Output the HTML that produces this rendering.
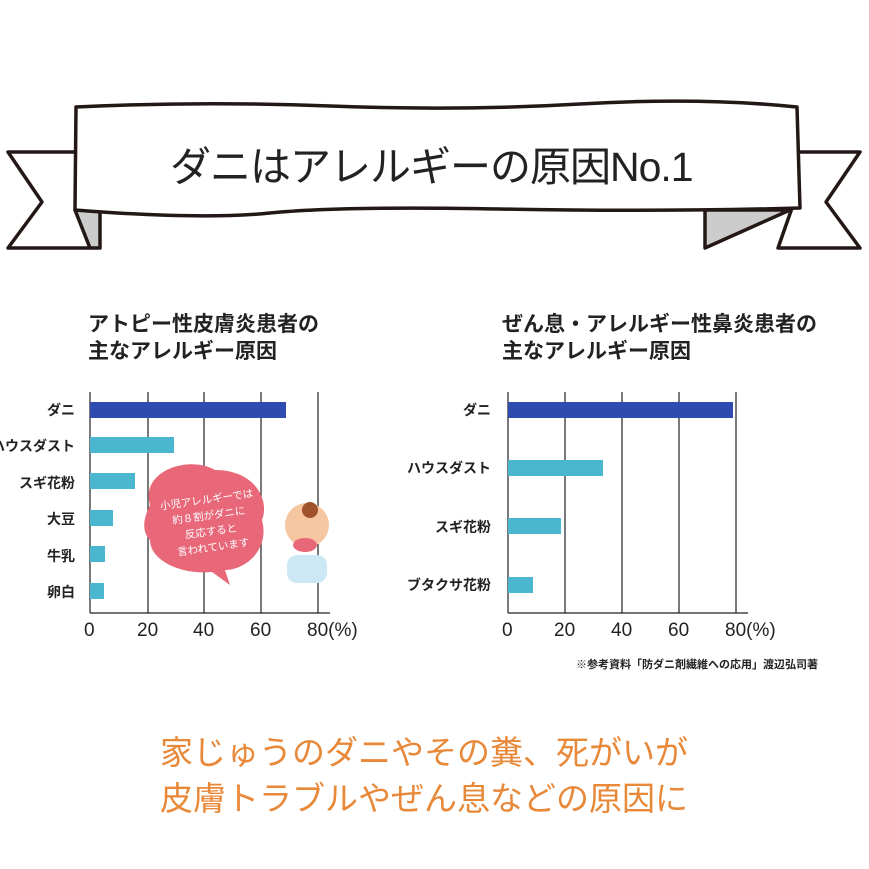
<!DOCTYPE html>
<html><head><meta charset="utf-8"><style>
body{margin:0;background:#fff;width:869px;height:869px;overflow:hidden;position:relative;font-family:"Liberation Sans","Noto Sans CJK JP",sans-serif;}
.t{position:absolute;white-space:nowrap;}
</style></head><body>
<svg width="869" height="869" style="position:absolute;left:0;top:0">
<g stroke="#231815" stroke-width="3.5" fill="#fff" stroke-linejoin="round">
<polygon points="8,152 76,152 76,208 90,248 8,248 42,202"/>
<polygon points="860,152 792,152 792,208 778,248 860,248 826,202"/>
<polygon points="75,210 100,210 100,248 90,248" fill="#ccc"/>
<polygon points="705,210 790,210 705,248" fill="#ccc"/>
<path d="M76,107 Q200,101 330,106 T580,104 T797,107 L800,208 Q660,212 500,209 T270,213 T75,210 Z"/>
</g>
</svg>
<div class="t" style="left:170px;top:133px;font-size:41px;color:#222;letter-spacing:-1px">ダニはアレルギーの原因No.1</div>

<div class="t" style="left:88px;top:311px;font-size:21px;line-height:27px;color:#222;font-weight:bold">アトピー性皮膚炎患者の<br>主なアレルギー原因</div>
<div class="t" style="left:502px;top:311px;font-size:21px;line-height:27px;color:#222;font-weight:bold">ぜん息・アレルギー性鼻炎患者の<br>主なアレルギー原因</div>

<svg width="869" height="869" style="position:absolute;left:0;top:0">
<g stroke="#222" stroke-width="1.2">
<line x1="90" y1="392" x2="90" y2="613"/><line x1="90" y1="613" x2="330" y2="613"/>
<line x1="148" y1="392" x2="148" y2="613"/><line x1="204" y1="392" x2="204" y2="613"/>
<line x1="261" y1="392" x2="261" y2="613"/><line x1="318" y1="392" x2="318" y2="613"/>
<line x1="508" y1="392" x2="508" y2="613"/><line x1="508" y1="613" x2="748" y2="613"/>
<line x1="565" y1="392" x2="565" y2="613"/><line x1="622" y1="392" x2="622" y2="613"/>
<line x1="679" y1="392" x2="679" y2="613"/><line x1="736" y1="392" x2="736" y2="613"/>
</g>
<rect x="90" y="402" width="196" height="16" fill="#2f4bb0"/>
<g fill="#4ab7cf">
<rect x="90" y="437" width="84" height="16"/><rect x="90" y="473" width="45" height="16"/>
<rect x="90" y="510" width="23" height="16"/><rect x="90" y="546" width="15" height="16"/>
<rect x="90" y="583" width="14" height="16"/>
</g>
<rect x="508" y="402" width="225" height="16" fill="#2f4bb0"/>
<g fill="#4ab7cf">
<rect x="508" y="460" width="95" height="16"/><rect x="508" y="518" width="53" height="16"/>
<rect x="508" y="577" width="25" height="16"/>
</g>
<path d="M150,505 C140,470 190,455 215,470 C255,470 270,500 262,520 C270,550 245,570 225,570 L230,585 L212,572 C180,575 150,560 150,540 C140,530 145,515 150,505 Z" fill="#e8687a"/>
<circle cx="307" cy="525" r="22" fill="#f5c6a0"/>
<circle cx="310" cy="510" r="8" fill="#a0522d"/>
<ellipse cx="305" cy="545" rx="12" ry="7" fill="#e8687a"/>
<rect x="287" y="555" width="40" height="28" rx="10" fill="#cce8f4"/>
</svg>
<div class="t" style="left:160px;top:492px;width:100px;font-size:10.5px;line-height:16px;color:#fff;text-align:center;transform:rotate(-8deg)">小児アレルギーでは<br>約８割がダニに<br>反応すると<br>言われています</div>

<div style="position:absolute;right:794px;top:392px;font-size:14px;line-height:36.4px;text-align:right;font-weight:bold;color:#222;white-space:nowrap">ダニ<br>ハウスダスト<br>スギ花粉<br>大豆<br>牛乳<br>卵白</div>
<div style="position:absolute;right:378px;top:381px;font-size:14px;line-height:58.3px;text-align:right;font-weight:bold;color:#222;white-space:nowrap">ダニ<br>ハウスダスト<br>スギ花粉<br>ブタクサ花粉</div>

<div class="t" style="left:84px;top:620px;font-size:19px;color:#222">0</div>
<div class="t" style="left:137px;top:620px;font-size:19px;color:#222">20</div>
<div class="t" style="left:193px;top:620px;font-size:19px;color:#222">40</div>
<div class="t" style="left:250px;top:620px;font-size:19px;color:#222">60</div>
<div class="t" style="left:307px;top:620px;font-size:19px;color:#222">80(%)</div>
<div class="t" style="left:502px;top:620px;font-size:19px;color:#222">0</div>
<div class="t" style="left:554px;top:620px;font-size:19px;color:#222">20</div>
<div class="t" style="left:611px;top:620px;font-size:19px;color:#222">40</div>
<div class="t" style="left:668px;top:620px;font-size:19px;color:#222">60</div>
<div class="t" style="left:725px;top:620px;font-size:19px;color:#222">80(%)</div>
<div class="t" style="left:576px;top:656px;font-size:11px;color:#222;font-weight:bold">※参考資料「防ダニ剤繊維への応用」渡辺弘司著</div>

<div class="t" style="left:160px;top:730px;font-size:33px;line-height:46px;color:#e8893a">家じゅうのダニやその糞、死がいが<br>皮膚トラブルやぜん息などの原因に</div>
</body></html>
